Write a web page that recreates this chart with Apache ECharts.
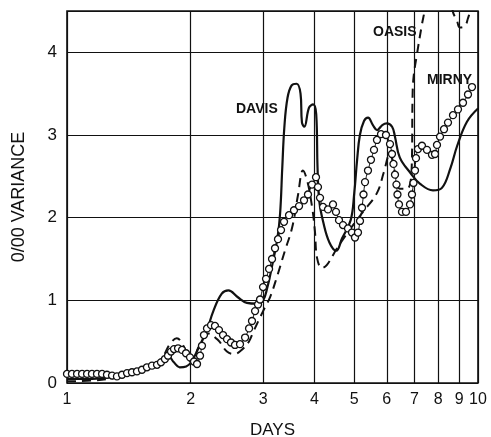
<!DOCTYPE html>
<html>
<head>
<meta charset="utf-8">
<script src="https://cdn.jsdelivr.net/npm/echarts@6/dist/echarts.min.js"></script>
<style>
  html, body { margin: 0; padding: 0; background: #fff; }
  #main { width: 491px; height: 437px; }
</style>
</head>
<body>
<div id="main"></div>
<script type="text/javascript">
// days (log axis) and 0/00 variance
var dayTicks = [1, 2, 3, 4, 5, 6, 7, 8, 9, 10];
var varianceTicks = [0, 1, 2, 3, 4];

var davisDays = [1.0, 1.15, 1.3, 1.4, 1.52, 1.62, 1.7, 1.76, 1.82, 1.88, 1.95, 2.01, 2.1, 2.19, 2.27, 2.38, 2.47, 2.6, 2.74, 2.9, 3.0, 3.07, 3.15, 3.25, 3.3, 3.34, 3.38, 3.44, 3.52, 3.62, 3.7, 3.73, 3.78, 3.88, 3.97, 4.04, 4.07, 4.11, 4.2, 4.35, 4.52, 4.67, 4.9, 5.0, 5.08, 5.16, 5.28, 5.4, 5.55, 5.68, 5.85, 6.0, 6.18, 6.28, 6.45, 6.85, 7.23, 7.77, 8.17, 8.57, 8.9, 9.4, 10.0];
var davisVals = [0.05, 0.05, 0.08, 0.13, 0.17, 0.2, 0.26, 0.33, 0.25, 0.19, 0.2, 0.26, 0.45, 0.64, 0.87, 1.08, 1.12, 1.04, 0.97, 0.96, 1.0, 1.15, 1.4, 1.75, 2.05, 2.6, 3.1, 3.45, 3.6, 3.62, 3.5, 3.15, 3.1, 3.33, 3.37, 3.25, 2.6, 2.2, 1.95, 1.7, 1.6, 1.75, 1.97, 2.3, 2.7, 3.0, 3.17, 3.21, 3.12, 3.06, 3.12, 3.14, 3.1, 2.98, 2.73, 2.54, 2.41, 2.33, 2.36, 2.6, 2.87, 3.16, 3.32];

var oasisDays = [1.0, 1.15, 1.3, 1.45, 1.6, 1.7, 1.78, 1.85, 1.92, 2.0, 2.1, 2.2, 2.33, 2.45, 2.55, 2.66, 2.77, 2.84, 3.0, 3.12, 3.24, 3.39, 3.53, 3.65, 3.75, 3.84, 3.95, 4.01, 4.06, 4.17, 4.29, 4.54, 4.9, 5.25, 5.68, 5.9, 6.1, 6.28, 6.45, 6.72, 6.9, 6.93, 6.97, 7.1, 7.3, 7.43, 7.6, 8.0, 8.5, 8.68, 8.89, 9.04, 9.3, 9.45, 9.56, 9.7];
var oasisVals = [0.02, 0.03, 0.06, 0.12, 0.2, 0.3, 0.47, 0.54, 0.45, 0.26, 0.45, 0.6, 0.52, 0.38, 0.35, 0.4, 0.5, 0.62, 0.87, 1.04, 1.28, 1.6, 1.88, 2.28, 2.57, 2.45, 2.12, 1.84, 1.51, 1.39, 1.43, 1.63, 1.87, 2.07, 2.3, 2.55, 2.77, 2.55, 2.35, 2.35, 2.63, 3.45, 3.7, 3.97, 4.33, 4.53, 4.9, null, 4.9, 4.5, 4.38, 4.3, 4.32, 4.41, 4.5, 4.8];

var mirnyDays = [1.0, 1.028, 1.058, 1.088, 1.119, 1.15, 1.183, 1.217, 1.251, 1.287, 1.323, 1.361, 1.4, 1.439, 1.48, 1.522, 1.565, 1.61, 1.656, 1.693, 1.731, 1.761, 1.791, 1.821, 1.863, 1.905, 1.948, 1.992, 2.037, 2.072, 2.107, 2.13, 2.154, 2.191, 2.241, 2.291, 2.343, 2.397, 2.451, 2.506, 2.563, 2.636, 2.712, 2.773, 2.819, 2.868, 2.916, 2.949, 2.999, 3.05, 3.102, 3.154, 3.207, 3.261, 3.317, 3.373, 3.469, 3.567, 3.669, 3.773, 3.858, 3.945, 4.035, 4.08, 4.127, 4.197, 4.315, 4.438, 4.513, 4.59, 4.694, 4.827, 4.936, 5.02, 5.105, 5.163, 5.221, 5.265, 5.31, 5.399, 5.49, 5.584, 5.678, 5.808, 5.972, 6.108, 6.176, 6.228, 6.281, 6.333, 6.369, 6.423, 6.532, 6.68, 6.832, 6.908, 6.967, 7.026, 7.065, 7.144, 7.306, 7.514, 7.727, 7.859, 7.947, 8.083, 8.266, 8.453, 8.693, 8.94, 9.194, 9.455, 9.669];
var mirnyVals = [0.11, 0.11, 0.11, 0.11, 0.11, 0.11, 0.11, 0.11, 0.1, 0.09, 0.08, 0.1, 0.12, 0.13, 0.14, 0.16, 0.19, 0.21, 0.22, 0.25, 0.29, 0.33, 0.38, 0.41, 0.42, 0.4, 0.36, 0.31, 0.26, 0.23, 0.33, 0.45, 0.58, 0.66, 0.7, 0.69, 0.64, 0.58, 0.53, 0.49, 0.46, 0.47, 0.55, 0.66, 0.75, 0.87, 0.95, 1.01, 1.16, 1.26, 1.38, 1.5, 1.63, 1.74, 1.85, 1.95, 2.03, 2.09, 2.14, 2.21, 2.28, 2.4, 2.49, 2.37, 2.24, 2.13, 2.1, 2.16, 2.07, 1.97, 1.91, 1.87, 1.82, 1.76, 1.82, 1.96, 2.12, 2.28, 2.43, 2.57, 2.7, 2.82, 2.94, 3.01, 3.0, 2.89, 2.77, 2.65, 2.52, 2.4, 2.28, 2.16, 2.07, 2.07, 2.16, 2.28, 2.42, 2.57, 2.72, 2.83, 2.87, 2.82, 2.76, 2.77, 2.88, 2.98, 3.07, 3.15, 3.24, 3.31, 3.39, 3.49, 3.58];

function pairs(xs, ys) {
    var out = [];
    for (var i = 0; i < xs.length; i++) {
        out.push([xs[i], ys[i] === null ? '-' : ys[i]]);
    }
    return out;
}

var myChart = echarts.init(document.getElementById('main'), null, { renderer: 'canvas' });
var ink = '#111';
var font = '"Liberation Sans", Arial, sans-serif';

var option = {
    backgroundColor: '#fff',
    animation: false,
    grid: {
        left: 67, right: 13, top: 11, bottom: 54,
        outerBoundsMode: 'none',
        containLabel: false,
        show: true,
        borderColor: ink,
        borderWidth: 1.6
    },
    xAxis: {
        type: 'log',
        logBase: 10,
        min: 1,
        max: 10,
        name: 'DAYS',
        nameLocation: 'middle',
        nameGap: 39,
        nameTextStyle: { color: ink, fontFamily: font, fontSize: 17 },
        axisLine: { show: false },
        axisTick: { show: false, customValues: dayTicks },
        axisLabel: {
            customValues: dayTicks,
            color: ink, fontFamily: font, fontSize: 16, margin: 9
        },
        splitLine: { show: true, lineStyle: { color: ink, width: 1.2 } },
        minorSplitLine: { show: false }
    },
    yAxis: {
        type: 'value',
        min: 0,
        max: 4.5,
        interval: 1,
        name: '0/00 VARIANCE',
        nameLocation: 'middle',
        nameGap: 39,
        nameTextStyle: { color: ink, fontFamily: font, fontSize: 18 },
        axisLine: { show: false },
        axisTick: { show: false },
        axisLabel: {
            color: ink, fontFamily: font, fontSize: 17, margin: 10,
            formatter: function (v) {
                return varianceTicks.indexOf(v) >= 0 ? String(v) : '';
            }
        },
        splitLine: { show: true, lineStyle: { color: ink, width: 1.2 } }
    },
    series: [
        {
            name: 'DAVIS',
            type: 'line',
            smooth: 0.4,
            symbol: 'none',
            lineStyle: { color: ink, width: 2.2 },
            data: pairs(davisDays, davisVals)
        },
        {
            name: 'OASIS',
            type: 'line',
            smooth: 0.4,
            symbol: 'none',
            connectNulls: false,
            lineStyle: { color: ink, width: 2, type: [9, 6] },
            data: pairs(oasisDays, oasisVals)
        },
        {
            name: 'MIRNY',
            type: 'line',
            smooth: 0.3,
            symbol: 'circle',
            symbolSize: 7,
            showAllSymbol: true,
            lineStyle: { color: ink, width: 1 },
            itemStyle: { color: '#fff', borderColor: ink, borderWidth: 1.3 },
            data: pairs(mirnyDays, mirnyVals)
        }
    ],
    graphic: [
        { type: 'text', left: 236, top: 102, style: { text: 'DAVIS', fill: ink, font: 'bold 14px ' + font } },
        { type: 'text', left: 373, top: 25, style: { text: 'OASIS', fill: ink, font: 'bold 14px ' + font } },
        { type: 'text', left: 427, top: 73, style: { text: 'MIRNY', fill: ink, font: 'bold 14px ' + font } }
    ]
};

myChart.setOption(option);
</script>
</body>
</html>
